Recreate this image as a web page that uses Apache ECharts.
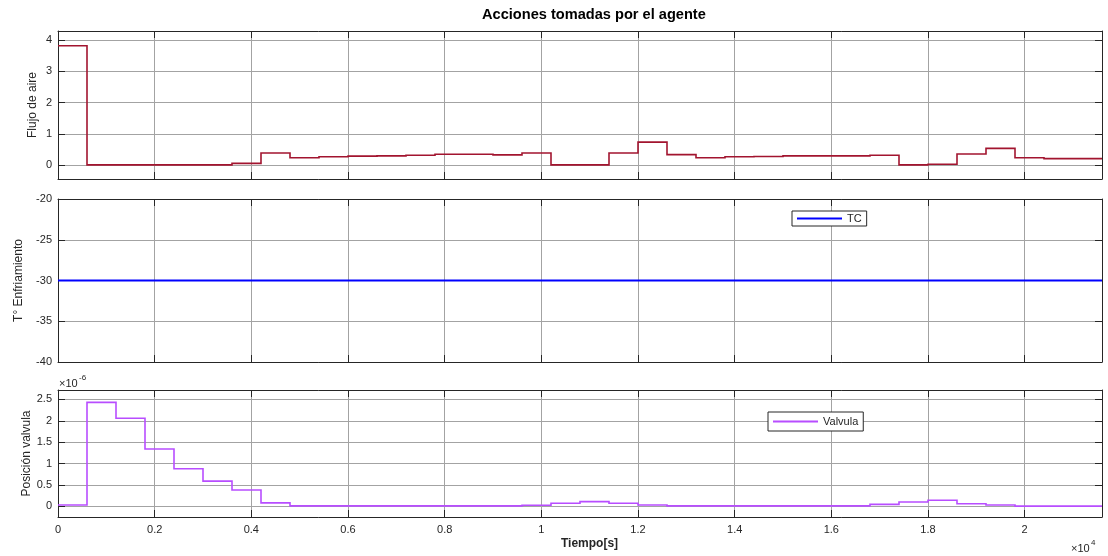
<!DOCTYPE html>
<html>
<head>
<meta charset="utf-8">
<script src="https://cdn.jsdelivr.net/npm/echarts@6/dist/echarts.min.js"></script>
<style>
  html, body { margin: 0; padding: 0; background: #ffffff; }
  #chart { width: 1108px; height: 556px; }
</style>
</head>
<body>
<div id="chart"></div>
<script>
// Start time (s) of each control interval; every action is held for 600 s
const stepStarts = [
  0, 600, 1200, 1800, 2400, 3000, 3600, 4200, 4800, 5400, 6000, 6600,
  7200, 7800, 8400, 9000, 9600, 10200, 10800, 11400, 12000, 12600, 13200, 13800,
  14400, 15000, 15600, 16200, 16800, 17400, 18000, 18600, 19200, 19800, 20400, 21000
];
const endTime = 21600;

// Air flow action per interval
const airFlow = [
  3.82, 0.01, 0.01, 0.01, 0.01, 0.01, 0.06, 0.39, 0.24, 0.27, 0.29, 0.30,
  0.32, 0.35, 0.35, 0.33, 0.39, 0.01, 0.01, 0.39, 0.74, 0.34, 0.24, 0.27,
  0.28, 0.30, 0.30, 0.30, 0.32, 0.01, 0.03, 0.36, 0.54, 0.24, 0.21, 0.21
];

// Cooling temperature (TC), constant over the run
const coolingTimes = [0, 21600];
const coolingTemp = [-30, -30];

// Valve position per interval, in units of 1e-6
const valvePos = [
  0.03, 2.43, 2.06, 1.34, 0.88, 0.59, 0.38, 0.08, 0.01, 0.01, 0.01, 0.01,
  0.01, 0.01, 0.01, 0.01, 0.025, 0.07, 0.11, 0.07, 0.03, 0.01, 0.01, 0.01,
  0.01, 0.01, 0.01, 0.01, 0.045, 0.10, 0.14, 0.06, 0.03, 0.005, 0.005, 0.005
];

// Tick positions and labels
const xTickValues = [0, 2000, 4000, 6000, 8000, 10000, 12000, 14000, 16000, 18000, 20000];
const xTickLabels = ['0', '0.2', '0.4', '0.6', '0.8', '1', '1.2', '1.4', '1.6', '1.8', '2'];
const airTicks = [0, 1, 2, 3, 4];
const tempTicks = [-40, -35, -30, -25, -20];
const valveTicks = [0, 0.5, 1, 1.5, 2, 2.5];

const FONT = 'Liberation Sans, Arial, Helvetica, sans-serif';
const TXT = '#262626';
const GRIDC = '#a3a3a3';

// Zero-order-hold polyline: each value is held from its start time to the next one
function holdPoints(starts, values, tEnd) {
  const d = [];
  starts.forEach((t, i) => {
    const tNext = i + 1 < starts.length ? starts[i + 1] : tEnd;
    d.push([t, values[i]]);
    d.push([tNext, values[i]]);
  });
  return d;
}

const grids = [
  { left: 58, right: 6, top: 31, height: 148 },
  { left: 58, right: 6, top: 199, height: 163 },
  { left: 58, right: 6, top: 390, height: 127 }
];

const tickStyle = { show: true, inside: true, length: 7, lineStyle: { color: TXT, width: 1 } };
const lineStyle = { show: true, onZero: false, lineStyle: { color: TXT, width: 1 } };

function xAxes(gi, showLabels) {
  const xFmt = v => {
    const i = xTickValues.indexOf(v);
    return i >= 0 ? xTickLabels[i] : '';
  };
  return [
    {
      type: 'value', gridIndex: gi, min: 0, max: endTime, position: 'bottom',
      axisLine: lineStyle,
      axisTick: Object.assign({ customValues: xTickValues }, tickStyle),
      axisLabel: {
        show: showLabels, customValues: xTickValues, formatter: xFmt,
        fontFamily: FONT, fontSize: 11, color: TXT, margin: 7
      },
      splitLine: { show: true, lineStyle: { color: GRIDC, width: 1 } }
    },
    {
      type: 'value', gridIndex: gi, min: 0, max: endTime, position: 'top',
      axisLine: lineStyle,
      axisTick: Object.assign({ customValues: xTickValues }, tickStyle),
      axisLabel: { show: false },
      splitLine: { show: false }
    }
  ];
}

function yAxes(gi, min, max, ticks, name, nameGap) {
  return [
    {
      type: 'value', gridIndex: gi, min: min, max: max, position: 'left',
      name: name, nameLocation: 'middle', nameGap: nameGap, nameRotate: 90,
      nameMoveOverlap: false,
      nameTextStyle: { fontFamily: FONT, fontSize: 12, color: TXT },
      axisLine: lineStyle,
      axisTick: Object.assign({ customValues: ticks }, tickStyle),
      axisLabel: { customValues: ticks, fontFamily: FONT, fontSize: 11, color: TXT, margin: 6 },
      splitLine: { show: true, lineStyle: { color: GRIDC, width: 1 } }
    },
    {
      type: 'value', gridIndex: gi, min: min, max: max, position: 'right',
      axisLine: lineStyle,
      axisTick: Object.assign({ customValues: ticks }, tickStyle),
      axisLabel: { show: false },
      splitLine: { show: false }
    }
  ];
}

const chart = echarts.init(document.getElementById('chart'), null, { renderer: 'canvas' });

const legendBase = {
  orient: 'horizontal', icon: 'rect', itemWidth: 45, itemHeight: 2,
  borderColor: TXT, borderWidth: 1, backgroundColor: '#ffffff',
  selectedMode: false,
  itemStyle: { borderWidth: 0 },
  lineStyle: { width: 0 },
  textStyle: { fontFamily: FONT, fontSize: 11, color: TXT }
};

chart.setOption({
  animation: false,
  backgroundColor: '#ffffff',
  title: {
    text: 'Acciones tomadas por el agente',
    left: 482, top: 7, padding: 0,
    textStyle: { fontFamily: FONT, fontSize: 14.6, fontWeight: 'bold', color: '#000000' }
  },
  grid: grids,
  xAxis: [].concat(xAxes(0, false), xAxes(1, false), xAxes(2, true)),
  yAxis: [].concat(
    yAxes(0, -0.44, 4.29, airTicks, 'Flujo de aire', 19),
    yAxes(1, -40, -20, tempTicks, 'T° Enfriamiento', 33),
    yAxes(2, -0.25, 2.72, valveTicks, 'Posición valvula', 25)
  ),
  legend: [
    Object.assign({ data: ['TC'], left: 792, top: 211, padding: [2, 5, 2, 5] }, legendBase),
    Object.assign({ data: ['Valvula'], left: 768, top: 412, padding: [4, 5, 4, 5] }, legendBase)
  ],
  series: [
    {
      // drawn as one polyline so small hold-to-hold steps keep their vertical edges
      name: 'Flujo de aire', type: 'lines', coordinateSystem: 'cartesian2d',
      xAxisIndex: 0, yAxisIndex: 0, polyline: true, silent: true,
      data: [{ coords: holdPoints(stepStarts, airFlow, endTime) }],
      lineStyle: { color: '#A2142F', width: 1.6, opacity: 1 },
      itemStyle: { color: '#A2142F' }
    },
    {
      name: 'TC', type: 'line',
      xAxisIndex: 2, yAxisIndex: 2,
      data: coolingTimes.map((t, i) => [t, coolingTemp[i]]),
      showSymbol: false, symbol: 'none',
      lineStyle: { color: '#0000FF', width: 2 },
      itemStyle: { color: '#0000FF' }
    },
    {
      name: 'Valvula', type: 'lines', coordinateSystem: 'cartesian2d',
      xAxisIndex: 4, yAxisIndex: 4, polyline: true, silent: true,
      data: [{ coords: holdPoints(stepStarts, valvePos, endTime) }],
      lineStyle: { color: '#B84DFF', width: 1.6, opacity: 1 },
      itemStyle: { color: '#B84DFF' }
    }
  ],
  graphic: [
    { type: 'text', left: 59, top: 378, style: { text: '×10', fontFamily: FONT, fontSize: 11, fill: TXT } },
    { type: 'text', left: 79, top: 374, style: { text: '-6', fontFamily: FONT, fontSize: 8, fill: TXT } },
    { type: 'text', left: 1071, top: 543, style: { text: '×10', fontFamily: FONT, fontSize: 11, fill: TXT } },
    { type: 'text', left: 1091, top: 539, style: { text: '4', fontFamily: FONT, fontSize: 8, fill: TXT } },
    { type: 'text', left: 561, top: 538, style: { text: 'Tiempo[s]', fontFamily: FONT, fontSize: 12, fontWeight: 'bold', fill: TXT } }
  ]
});
</script>
</body>
</html>
